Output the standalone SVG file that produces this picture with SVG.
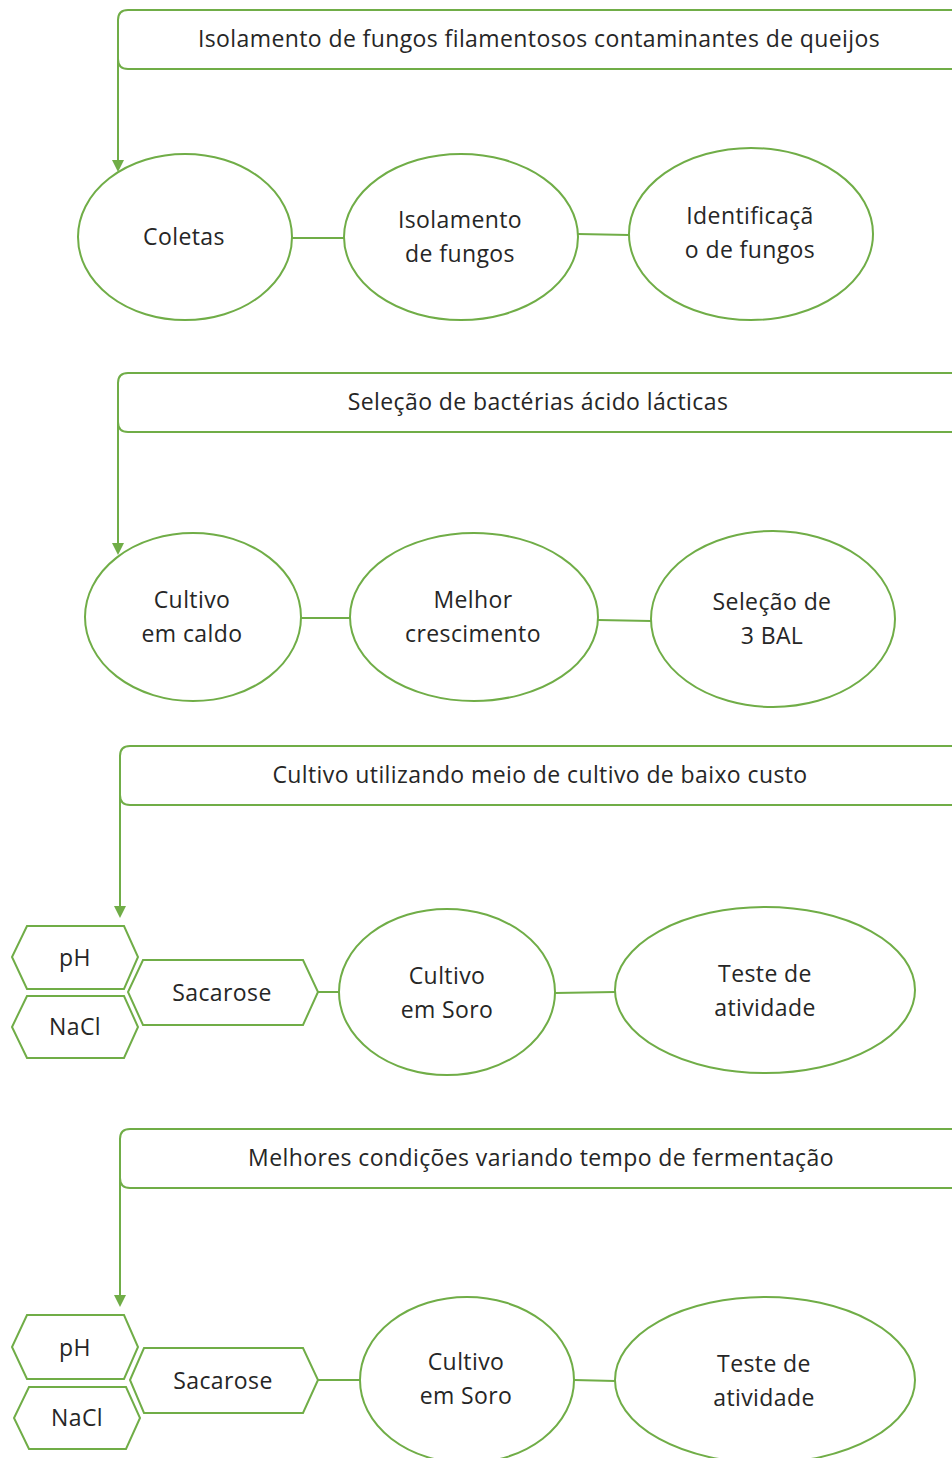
<svg xmlns="http://www.w3.org/2000/svg" width="952" height="1458" viewBox="0 0 952 1458">
<style>
.s{fill:#fff;stroke:#70AD47;stroke-width:2}
.c{fill:none;stroke:#70AD47;stroke-width:2}
.t{fill:#70AD47}
text{font-family:"Open Sans","Liberation Sans",sans-serif;font-size:23px;letter-spacing:0.4px;fill:#262626;text-anchor:middle}
</style>
<rect width="952" height="1458" fill="#fff"/>
<g id="connectors">
<path class="c" d="M118,40 V162"/>
<path class="c" d="M118,403 V545"/>
<path class="c" d="M120,776 V908"/>
<path class="c" d="M120,1158 V1297"/>
<path class="t" d="M112,160 L124,160 L118,172 Z"/>
<path class="t" d="M112,543 L124,543 L118,555 Z"/>
<path class="t" d="M114,906 L126,906 L120,918 Z"/>
<path class="t" d="M114,1295 L126,1295 L120,1307 Z"/>
<line class="c" x1="292" y1="238" x2="344" y2="238"/>
<line class="c" x1="578" y1="234" x2="629" y2="235"/>
<line class="c" x1="301" y1="618" x2="350" y2="618"/>
<line class="c" x1="598" y1="620" x2="651" y2="621"/>
<line class="c" x1="318" y1="992" x2="340" y2="992"/>
<line class="c" x1="555" y1="993" x2="615" y2="992"/>
<line class="c" x1="318" y1="1380" x2="360" y2="1380"/>
<line class="c" x1="574" y1="1380" x2="615" y2="1381"/>
</g>
<g id="h1"><path class="s" d="M960,10 H128 Q118,10 118,20 V59 Q118,69 128,69 H960"/><text x="539" y="47">Isolamento de fungos filamentosos contaminantes de queijos</text></g>
<g id="h2"><path class="s" d="M960,373 H128 Q118,373 118,383 V422 Q118,432 128,432 H960"/><text x="538" y="410">Seleção de bactérias ácido lácticas</text></g>
<g id="h3"><path class="s" d="M960,746 H130 Q120,746 120,756 V795 Q120,805 130,805 H960"/><text x="540" y="783">Cultivo utilizando meio de cultivo de baixo custo</text></g>
<g id="h4"><path class="s" d="M960,1129 H130 Q120,1129 120,1139 V1178 Q120,1188 130,1188 H960"/><text x="541" y="1166">Melhores condições variando tempo de fermentação</text></g>
<g id="coletas"><ellipse class="s" cx="185" cy="237" rx="107" ry="83"/><text x="184" y="245">Coletas</text></g>
<g id="isolamento"><ellipse class="s" cx="461" cy="237" rx="117" ry="83"/><text x="460" y="228">Isolamento</text><text x="460" y="262">de fungos</text></g>
<g id="identificacao"><ellipse class="s" cx="751" cy="234" rx="122" ry="86"/><text x="750" y="224">Identificaçã</text><text x="750" y="258">o de fungos</text></g>
<g id="cultivo-caldo"><ellipse class="s" cx="193" cy="617" rx="108" ry="84"/><text x="192" y="608">Cultivo</text><text x="192" y="642">em caldo</text></g>
<g id="melhor"><ellipse class="s" cx="474" cy="617" rx="124" ry="84"/><text x="473" y="608">Melhor</text><text x="473" y="642">crescimento</text></g>
<g id="selecao-bal"><ellipse class="s" cx="773" cy="619" rx="122" ry="88"/><text x="772" y="610">Seleção de</text><text x="772" y="644">3 BAL</text></g>
<g id="ph1"><path class="s" d="M27,926 H124 L138,957 L124,989 H27 L12,957 Z"/><text x="75" y="966">pH</text></g>
<g id="nacl1"><path class="s" d="M27,996 H124 L138,1027 L124,1058 H27 L12,1027 Z"/><text x="75" y="1035">NaCl</text></g>
<g id="sacarose1"><path class="s" d="M143,960 H303 L318,992 L303,1025 H143 L128,992 Z"/><text x="222" y="1001">Sacarose</text></g>
<g id="soro1"><ellipse class="s" cx="447" cy="992" rx="108" ry="83"/><text x="447" y="984">Cultivo</text><text x="447" y="1018">em Soro</text></g>
<g id="teste1"><ellipse class="s" cx="765" cy="990" rx="150" ry="83"/><text x="765" y="982">Teste de</text><text x="765" y="1016">atividade</text></g>
<g id="ph2"><path class="s" d="M27,1315 H124 L138,1347 L124,1379 H27 L12,1347 Z"/><text x="75" y="1356">pH</text></g>
<g id="nacl2"><path class="s" d="M29,1387 H126 L140,1418 L126,1449 H29 L14,1418 Z"/><text x="77" y="1426">NaCl</text></g>
<g id="sacarose2"><path class="s" d="M144,1348 H303 L318,1380 L303,1413 H144 L130,1380 Z"/><text x="223" y="1389">Sacarose</text></g>
<g id="soro2"><ellipse class="s" cx="467" cy="1380" rx="107" ry="83"/><text x="466" y="1370">Cultivo</text><text x="466" y="1404">em Soro</text></g>
<g id="teste2"><ellipse class="s" cx="765" cy="1380" rx="150" ry="83"/><text x="764" y="1372">Teste de</text><text x="764" y="1406">atividade</text></g>
</svg>
